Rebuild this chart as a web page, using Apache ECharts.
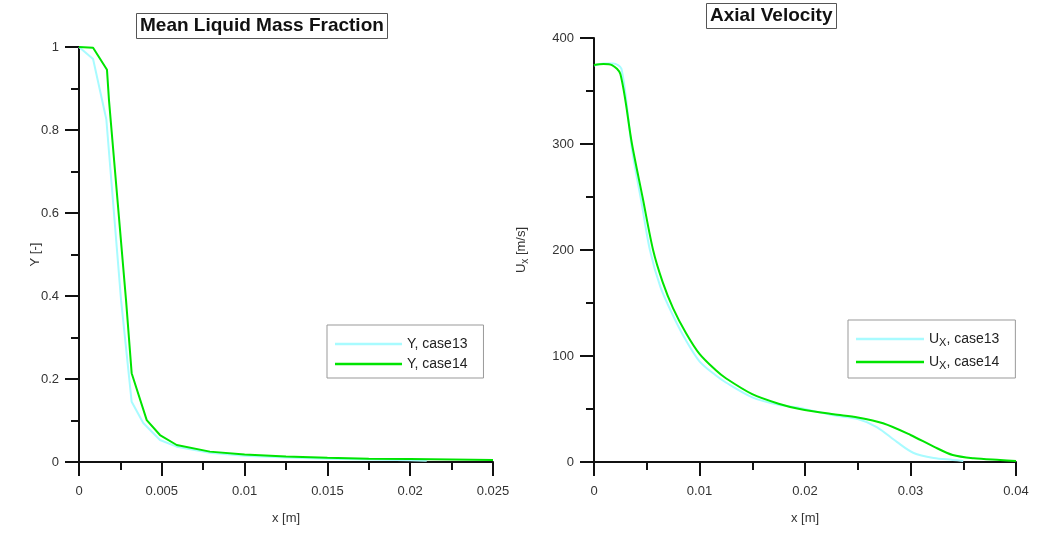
<!DOCTYPE html>
<html>
<head>
<meta charset="utf-8">
<script src="https://cdn.jsdelivr.net/npm/echarts@6/dist/echarts.min.js"></script>
<style>
  html, body { margin: 0; padding: 0; background: #fff; }
  #chart { width: 1037px; height: 534px; }
</style>
</head>
<body>
<div id="chart"></div>
<script>
// left panel: mean liquid mass fraction
const yCase13X = [0, 0.00085, 0.00165, 0.00254, 0.00318, 0.00388, 0.00489, 0.0059, 0.0079, 0.01, 0.0125, 0.015, 0.0175, 0.02, 0.021]
const yCase13 = [1, 0.971, 0.826, 0.39, 0.145, 0.094, 0.053, 0.037, 0.022, 0.015, 0.011, 0.008, 0.006, 0.004, 0.003]
const yCase14X = [0, 0.00085, 0.00169, 0.00181, 0.00284, 0.00318, 0.00409, 0.00489, 0.0059, 0.0079, 0.01, 0.0125, 0.015, 0.0175, 0.02, 0.025]
const yCase14 = [1, 0.998, 0.945, 0.872, 0.39, 0.214, 0.101, 0.065, 0.041, 0.025, 0.018, 0.013, 0.01, 0.008, 0.007, 0.005]

// right panel: axial velocity
const uCase13X = [0, 0.0009, 0.0018, 0.0026, 0.0036, 0.0045, 0.0053, 0.0063, 0.0075, 0.0087, 0.01, 0.0115, 0.0125, 0.015, 0.0175, 0.0195, 0.0227, 0.025, 0.0268, 0.0287, 0.0303, 0.0322, 0.034, 0.035]
const uCase13 = [374, 376, 376, 371, 295, 245, 200, 165, 138, 115, 95, 82, 75, 61, 54, 51, 44, 40.5, 33, 19, 8.5, 3.8, 2, 1]
const uCase14X = [0, 0.0009, 0.0017, 0.0025, 0.0036, 0.0046, 0.0056, 0.0065, 0.0075, 0.0087, 0.01, 0.0115, 0.0125, 0.015, 0.0175, 0.0195, 0.0227, 0.025, 0.0274, 0.03, 0.0322, 0.034, 0.036, 0.0385, 0.04]
const uCase14 = [374.5, 375.5, 374.5, 366, 300, 250, 200, 170, 145, 122, 102, 87, 79, 64, 55, 50, 45, 42, 36.5, 25.5, 14.5, 6.6, 3.5, 1.9, 1]

const cyan = '#a8fbff'
const green = '#00e400'
const zip = (xs, ys) => xs.map((x, i) => [x, ys[i]])

const axisBase = {
    axisLine: { show: true, onZero: false, lineStyle: { color: '#111', width: 2 } },
    axisTick: { show: true, inside: false, length: 14, lineStyle: { color: '#111', width: 2 } },
    minorTick: { show: true, splitNumber: 2, length: 8, lineStyle: { color: '#111', width: 2 } },
    splitLine: { show: false },
    axisLabel: { color: '#333', fontSize: 13, fontFamily: 'Arial, Liberation Sans' },
    nameLocation: 'middle',
    nameMoveOverlap: false,
    nameTextStyle: { color: '#333', fontSize: 13, fontFamily: 'Arial, Liberation Sans' }
}

const titleStyle = { fontSize: 19, lineHeight: 20, fontWeight: 'bold', color: '#111', fontFamily: 'Arial, Liberation Sans' }
const legendText = {
    color: '#222', fontSize: 14, fontFamily: 'Arial, Liberation Sans',
    rich: { sub: { fontSize: 11, padding: [7, 0, 0, 0], color: '#222' } }
}

let myChart = echarts.init(document.getElementById('chart'))
myChart.setOption({
    animation: false,
    backgroundColor: '#fff',
    title: [
        { text: 'Mean Liquid Mass Fraction', left: 136, top: 13, padding: [3, 4], borderWidth: 1, borderColor: '#555', textStyle: titleStyle },
        { text: 'Axial Velocity', left: 706, top: 3, padding: [3, 4], borderWidth: 1, borderColor: '#555', textStyle: titleStyle }
    ],
    legend: [
        {
            data: ['Y, case13', 'Y, case14'],
            orient: 'vertical', left: 327, top: 325,
            icon: 'rect', itemWidth: 67, itemHeight: 2.5, itemGap: 6,
            padding: [12, 16, 7, 8],
            borderColor: '#999', borderWidth: 1,
            textStyle: legendText
        },
        {
            data: ['Ux, case13', 'Ux, case14'],
            orient: 'vertical', left: 848, top: 320,
            icon: 'rect', itemWidth: 68, itemHeight: 2.5, itemGap: 7,
            padding: [12, 16, 7, 8],
            borderColor: '#999', borderWidth: 1,
            textStyle: legendText,
            formatter: name => 'U{sub|X}' + name.slice(2)
        }
    ],
    grid: [
        { left: 79, right: 544, top: 47, bottom: 72 },
        { left: 594, right: 21, top: 38, bottom: 72 }
    ],
    xAxis: [
        Object.assign({}, axisBase, {
            gridIndex: 0, type: 'value', min: 0, max: 0.025, interval: 0.005,
            name: 'x [m]', nameGap: 50,
            axisLabel: Object.assign({}, axisBase.axisLabel, { margin: 23 })
        }),
        Object.assign({}, axisBase, {
            gridIndex: 1, type: 'value', min: 0, max: 0.04, interval: 0.01,
            name: 'x [m]', nameGap: 50,
            axisLabel: Object.assign({}, axisBase.axisLabel, { margin: 23 })
        })
    ],
    yAxis: [
        Object.assign({}, axisBase, {
            gridIndex: 0, type: 'value', min: 0, max: 1, interval: 0.2,
            name: 'Y [-]', nameGap: 37,
            axisLabel: Object.assign({}, axisBase.axisLabel, { margin: 20 })
        }),
        Object.assign({}, axisBase, {
            gridIndex: 1, type: 'value', min: 0, max: 400, interval: 100,
            name: 'U{sub|x} [m/s]', nameGap: 64,
            nameTextStyle: Object.assign({}, axisBase.nameTextStyle, {
                rich: { sub: { fontSize: 10, padding: [7, 0, 0, 0], color: '#333' } }
            }),
            axisLabel: Object.assign({}, axisBase.axisLabel, { margin: 20 })
        })
    ],
    series: [
        {
            name: 'Y, case13', type: 'line', xAxisIndex: 0, yAxisIndex: 0,
            symbol: 'none', data: zip(yCase13X, yCase13),
            lineStyle: { color: cyan, width: 2 }, itemStyle: { color: cyan }
        },
        {
            name: 'Y, case14', type: 'line', xAxisIndex: 0, yAxisIndex: 0,
            symbol: 'none', data: zip(yCase14X, yCase14),
            lineStyle: { color: green, width: 2 }, itemStyle: { color: green }
        },
        {
            name: 'Ux, case13', type: 'line', xAxisIndex: 1, yAxisIndex: 1,
            symbol: 'none', smooth: 0.3, data: zip(uCase13X, uCase13),
            lineStyle: { color: cyan, width: 2 }, itemStyle: { color: cyan }
        },
        {
            name: 'Ux, case14', type: 'line', xAxisIndex: 1, yAxisIndex: 1,
            symbol: 'none', smooth: 0.3, data: zip(uCase14X, uCase14),
            lineStyle: { color: green, width: 2 }, itemStyle: { color: green }
        }
    ]
})
window.addEventListener('resize', function() {
    myChart.resize()
})
</script>
</body>
</html>
